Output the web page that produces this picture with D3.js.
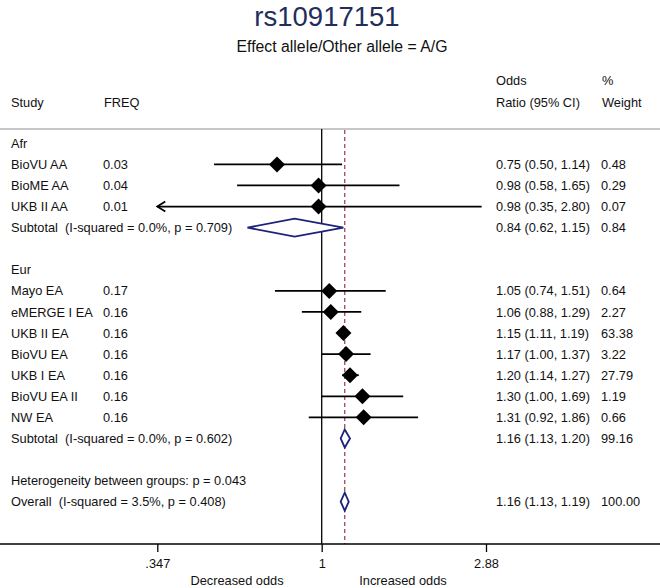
<!DOCTYPE html>
<html>
<head>
<meta charset="utf-8">
<script src="https://cdn.jsdelivr.net/npm/d3@7/dist/d3.min.js"></script>
<style>
  html, body { margin: 0; padding: 0; background: #fff; }
  svg { display: block; font-family: "Liberation Sans", Arial, Helvetica, sans-serif; }
  text { white-space: pre; }
</style>
</head>
<body>
<svg id="chart" width="660" height="588"></svg>
<script>
// ---------- data ----------
const titleText = "rs10917151";
const subtitleText = "Effect allele/Other allele = A/G";

const groups = ["Afr", "Eur"];
const studyGroup = ["Afr","Afr","Afr","Eur","Eur","Eur","Eur","Eur","Eur","Eur"];
const studies = ["BioVU AA","BioME AA","UKB II AA","Mayo EA","eMERGE I EA","UKB II EA","BioVU EA","UKB I EA","BioVU EA II","NW EA"];
const freq    = ["0.03","0.04","0.01","0.17","0.16","0.16","0.16","0.16","0.16","0.16"];
const orVal   = [0.75, 0.98, 0.98, 1.05, 1.06, 1.15, 1.17, 1.20, 1.30, 1.31];
const ciLow   = [0.50, 0.58, 0.35, 0.74, 0.88, 1.11, 1.00, 1.14, 1.00, 0.92];
const ciHigh  = [1.14, 1.65, 2.80, 1.51, 1.29, 1.19, 1.37, 1.27, 1.69, 1.86];
const weight  = ["0.48","0.29","0.07","0.64","2.27","63.38","3.22","27.79","1.19","0.66"];
const clippedLeft = ["UKB II AA"];

const subLabels = ["Subtotal  (I-squared = 0.0%, p = 0.709)", "Subtotal  (I-squared = 0.0%, p = 0.602)"];
const subOR     = [0.84, 1.16];
const subLow    = [0.62, 1.13];
const subHigh   = [1.15, 1.20];
const subWeight = ["0.84", "99.16"];

const hetText = "Heterogeneity between groups: p = 0.043";
const overallLabel = "Overall  (I-squared = 3.5%, p = 0.408)";
const overallOR = 1.16, overallLow = 1.13, overallHigh = 1.19, overallWeight = "100.00";

const tickValues = [0.347, 1, 2.88];
const tickLabels = [".347", "1", "2.88"];
const favourLabels = ["Decreased odds", "Increased odds"];

// ---------- build rows ----------
const rows = [];
groups.forEach((g, gi) => {
  rows.push({type: "group", label: g});
  studies.forEach((s, i) => {
    if (studyGroup[i] === g) rows.push({type: "study", label: s, freq: freq[i], or: orVal[i], lo: ciLow[i], hi: ciHigh[i], w: weight[i], clip: clippedLeft.includes(s)});
  });
  rows.push({type: "sub", label: subLabels[gi], or: subOR[gi], lo: subLow[gi], hi: subHigh[gi], w: subWeight[gi]});
  rows.push({type: "blank"});
});
rows.push({type: "het", label: hetText});
rows.push({type: "overall", label: overallLabel, or: overallOR, lo: overallLow, hi: overallHigh, w: overallWeight});
rows.forEach((r, i) => r.idx = i);

// ---------- scales ----------
const svg = d3.select("#chart");
const x = d3.scaleLog().domain([0.347, 2.88]).range([157.3, 486]);
const y = d3.scaleLinear().domain([0, rows.length - 1]).range([143.3, 501.7]);
const fmt = d3.format(".2f");
const fs = 12.8;
const topRule = 129, axisY = 544;

// ---------- titles ----------
svg.append("text").attr("x", 327).attr("y", 25.5).attr("text-anchor", "middle")
  .attr("font-size", 27.5).attr("fill", "#1f2e5c").text(titleText);
svg.append("text").attr("x", 342).attr("y", 52).attr("text-anchor", "middle")
  .attr("font-size", 15.8).attr("fill", "#111").text(subtitleText);

// ---------- header ----------
const hdr = svg.append("g").attr("font-size", fs).attr("fill", "#111");
hdr.append("text").attr("x", 11).attr("y", 106.5).text("Study");
hdr.append("text").attr("x", 104).attr("y", 106.5).text("FREQ");
hdr.append("text").attr("x", 496).attr("y", 85).text("Odds");
hdr.append("text").attr("x", 496).attr("y", 106.5).text("Ratio (95% CI)");
hdr.append("text").attr("x", 602).attr("y", 85).text("%");
hdr.append("text").attr("x", 602).attr("y", 106.5).text("Weight");

svg.append("line").attr("x1", 0).attr("x2", 660).attr("y1", topRule).attr("y2", topRule)
  .attr("stroke", "#b5b5b5").attr("stroke-width", 1.5);

// ---------- reference lines ----------
svg.append("line").attr("x1", x(1)).attr("x2", x(1)).attr("y1", topRule).attr("y2", axisY)
  .attr("stroke", "#000").attr("stroke-width", 1.3);
svg.append("line").attr("x1", x(overallOR)).attr("x2", x(overallOR)).attr("y1", topRule + 1).attr("y2", axisY)
  .attr("stroke", "#9b3452").attr("stroke-width", 1.2).attr("stroke-dasharray", "4,3");

// ---------- axis ----------
const axis = d3.axisBottom(x).tickValues(tickValues).tickFormat((d, i) => tickLabels[i]).tickSize(8).tickSizeOuter(0);
const ag = svg.append("g").attr("transform", `translate(0,${axisY})`).call(axis);
ag.select(".domain").remove();
ag.selectAll(".tick line").attr("stroke", "#000").attr("stroke-width", 1.3);
ag.selectAll(".tick text").attr("font-size", fs).attr("fill", "#111").attr("dy", "1.0em")
  .attr("font-family", "Liberation Sans, Arial, sans-serif");
svg.append("line").attr("x1", 0).attr("x2", 660).attr("y1", axisY).attr("y2", axisY)
  .attr("stroke", "#000").attr("stroke-width", 1.3);
svg.append("text").attr("x", 237).attr("y", 585).attr("text-anchor", "middle").attr("font-size", fs).attr("fill", "#111").text(favourLabels[0]);
svg.append("text").attr("x", 403).attr("y", 585).attr("text-anchor", "middle").attr("font-size", fs).attr("fill", "#111").text(favourLabels[1]);

// ---------- rows ----------
const txt = svg.append("g").attr("font-size", fs).attr("fill", "#111");
rows.forEach(r => {
  const cy = y(r.idx), by = cy + 4.6;
  if (r.type === "blank") return;
  txt.append("text").attr("x", 11).attr("y", by).text(r.label);
  if (r.type === "study") txt.append("text").attr("x", 103).attr("y", by).text(r.freq);
  if (r.or !== undefined) {
    txt.append("text").attr("x", 496).attr("y", by).text(`${fmt(r.or)} (${fmt(r.lo)}, ${fmt(r.hi)})`);
    txt.append("text").attr("x", 601).attr("y", by).text(r.w);
  }
});

const marks = svg.append("g");
rows.filter(r => r.type === "study").forEach(r => {
  const cy = y(r.idx);
  const x0 = r.clip ? x.range()[0] : x(r.lo);
  marks.append("line").attr("x1", x0).attr("x2", x(r.hi)).attr("y1", cy).attr("y2", cy)
    .attr("stroke", "#000").attr("stroke-width", 1.8);
  if (r.clip) {
    marks.append("path").attr("d", `M${x0 + 8},${cy - 5} L${x0},${cy} L${x0 + 8},${cy + 5}`)
      .attr("fill", "none").attr("stroke", "#000").attr("stroke-width", 1.8);
  }
  const cx = x(r.or), h = 8;
  marks.append("path").attr("d", `M${cx - h},${cy} L${cx},${cy - h} L${cx + h},${cy} L${cx},${cy + h} Z`).attr("fill", "#000");
});
rows.filter(r => r.type === "sub" || r.type === "overall").forEach(r => {
  const cy = y(r.idx), h = 9;
  marks.append("path")
    .attr("d", `M${x(r.lo)},${cy} L${x(r.or)},${cy - h} L${x(r.hi)},${cy} L${x(r.or)},${cy + h} Z`)
    .attr("fill", "#fff").attr("stroke", "#1b237a").attr("stroke-width", 1.8);
});
</script>
</body>
</html>
